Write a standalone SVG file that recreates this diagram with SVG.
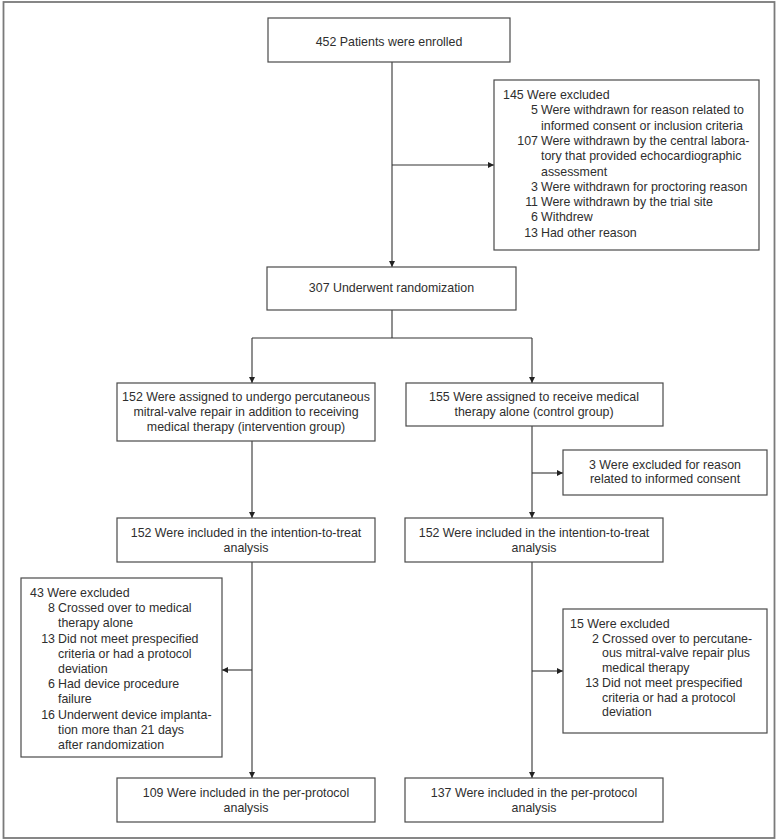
<svg xmlns="http://www.w3.org/2000/svg" width="777" height="840" viewBox="0 0 777 840">
<style>
  .box { fill: #ffffff; stroke: #4a4a4a; stroke-width: 1.2; }
  .t { font-family: "Liberation Sans", Arial, sans-serif; font-size: 12.4px; fill: #2e2e2e; }
  .c { text-anchor: middle; }
  .r { text-anchor: end; }
  .ln { fill: none; stroke: #333333; stroke-width: 1.1; }
</style>
<defs>
  <marker id="ah" viewBox="0 0 10 10" refX="10" refY="5" markerWidth="8" markerHeight="6" markerUnits="userSpaceOnUse" orient="auto">
    <path d="M0,0 L10,5 L0,10 z" fill="#222222"/>
  </marker>
</defs>
<rect x="0" y="0" width="777" height="840" fill="#ffffff"/>
<rect x="3.5" y="2" width="771" height="836" fill="none" stroke="#7a7a7a" stroke-width="1.8"/>

<g id="connectors">
  <line class="ln" x1="392" y1="62" x2="392" y2="267" marker-end="url(#ah)"/>
  <line class="ln" x1="392" y1="165" x2="494" y2="165" marker-end="url(#ah)"/>
  <line class="ln" x1="392" y1="310" x2="392" y2="338"/>
  <line class="ln" x1="252" y1="338" x2="532" y2="338"/>
  <line class="ln" x1="252" y1="338" x2="252" y2="383" marker-end="url(#ah)"/>
  <line class="ln" x1="532" y1="338" x2="532" y2="383" marker-end="url(#ah)"/>
  <line class="ln" x1="252" y1="441" x2="252" y2="518" marker-end="url(#ah)"/>
  <line class="ln" x1="532" y1="426" x2="532" y2="518" marker-end="url(#ah)"/>
  <line class="ln" x1="532" y1="473" x2="563" y2="473" marker-end="url(#ah)"/>
  <line class="ln" x1="252" y1="562" x2="252" y2="778" marker-end="url(#ah)"/>
  <line class="ln" x1="252" y1="670" x2="222" y2="670" marker-end="url(#ah)"/>
  <line class="ln" x1="532" y1="562" x2="532" y2="778" marker-end="url(#ah)"/>
  <line class="ln" x1="532" y1="671" x2="563" y2="671" marker-end="url(#ah)"/>
</g>

<g id="enrolled">
  <rect class="box" x="268" y="18" width="242" height="44"/>
  <text class="t c" x="389" y="46">452 Patients were enrolled</text>
</g>

<g id="excluded145">
  <rect class="box" x="494" y="80" width="265" height="170"/>
  <text class="t" x="503" y="99">145 Were excluded</text>
  <text class="t r" x="538" y="114.3">5</text>
  <text class="t" x="541" y="114.3">Were withdrawn for reason related to</text>
  <text class="t" x="541" y="129.6">informed consent or inclusion criteria</text>
  <text class="t r" x="538" y="144.9">107</text>
  <text class="t" x="541" y="144.9">Were withdrawn by the central labora-</text>
  <text class="t" x="541" y="160.2">tory that provided echocardiographic</text>
  <text class="t" x="541" y="175.5">assessment</text>
  <text class="t r" x="538" y="190.8">3</text>
  <text class="t" x="541" y="190.8">Were withdrawn for proctoring reason</text>
  <text class="t r" x="538" y="206.1">11</text>
  <text class="t" x="541" y="206.1">Were withdrawn by the trial site</text>
  <text class="t r" x="538" y="221.4">6</text>
  <text class="t" x="541" y="221.4">Withdrew</text>
  <text class="t r" x="538" y="236.7">13</text>
  <text class="t" x="541" y="236.7">Had other reason</text>
</g>

<g id="randomization">
  <rect class="box" x="267" y="267" width="249" height="43"/>
  <text class="t c" x="391.5" y="292">307 Underwent randomization</text>
</g>

<g id="intervention">
  <rect class="box" x="117" y="383" width="258" height="58"/>
  <text class="t c" x="246" y="401">152 Were assigned to undergo percutaneous</text>
  <text class="t c" x="246" y="416">mitral-valve repair in addition to receiving</text>
  <text class="t c" x="246" y="431">medical therapy (intervention group)</text>
</g>

<g id="control">
  <rect class="box" x="406" y="383" width="257" height="43"/>
  <text class="t c" x="534" y="401">155 Were assigned to receive medical</text>
  <text class="t c" x="534" y="416">therapy alone (control group)</text>
</g>

<g id="excluded3">
  <rect class="box" x="563" y="450" width="204" height="45"/>
  <text class="t c" x="665" y="469">3 Were excluded for reason</text>
  <text class="t c" x="665" y="483">related to informed consent</text>
</g>

<g id="itt-left">
  <rect class="box" x="117" y="518" width="258" height="44"/>
  <text class="t c" x="246" y="537">152 Were included in the intention-to-treat</text>
  <text class="t c" x="246" y="552">analysis</text>
</g>

<g id="itt-right">
  <rect class="box" x="405" y="518" width="258" height="44"/>
  <text class="t c" x="534" y="537">152 Were included in the intention-to-treat</text>
  <text class="t c" x="534" y="552">analysis</text>
</g>

<g id="excluded43">
  <rect class="box" x="21" y="578" width="201" height="179"/>
  <text class="t" x="30" y="597">43 Were excluded</text>
  <text class="t r" x="55" y="612.2">8</text>
  <text class="t" x="58" y="612.2">Crossed over to medical</text>
  <text class="t" x="58" y="627.4">therapy alone</text>
  <text class="t r" x="55" y="642.6">13</text>
  <text class="t" x="58" y="642.6">Did not meet prespecified</text>
  <text class="t" x="58" y="657.8">criteria or had a protocol</text>
  <text class="t" x="58" y="673">deviation</text>
  <text class="t r" x="55" y="688.2">6</text>
  <text class="t" x="58" y="688.2">Had device procedure</text>
  <text class="t" x="58" y="703.4">failure</text>
  <text class="t r" x="55" y="718.6">16</text>
  <text class="t" x="58" y="718.6">Underwent device implanta-</text>
  <text class="t" x="58" y="733.8">tion more than 21 days</text>
  <text class="t" x="58" y="749">after randomization</text>
</g>

<g id="excluded15">
  <rect class="box" x="563" y="609" width="204" height="124"/>
  <text class="t" x="570" y="628">15 Were excluded</text>
  <text class="t r" x="599" y="642.7">2</text>
  <text class="t" x="602" y="642.7">Crossed over to percutane-</text>
  <text class="t" x="602" y="657.4">ous mitral-valve repair plus</text>
  <text class="t" x="602" y="672.1">medical therapy</text>
  <text class="t r" x="599" y="686.8">13</text>
  <text class="t" x="602" y="686.8">Did not meet prespecified</text>
  <text class="t" x="602" y="701.5">criteria or had a protocol</text>
  <text class="t" x="602" y="716.2">deviation</text>
</g>

<g id="pp-left">
  <rect class="box" x="117" y="778" width="258" height="44"/>
  <text class="t c" x="246" y="797">109 Were included in the per-protocol</text>
  <text class="t c" x="246" y="812">analysis</text>
</g>

<g id="pp-right">
  <rect class="box" x="405" y="778" width="258" height="44"/>
  <text class="t c" x="534" y="797">137 Were included in the per-protocol</text>
  <text class="t c" x="534" y="812">analysis</text>
</g>
</svg>
